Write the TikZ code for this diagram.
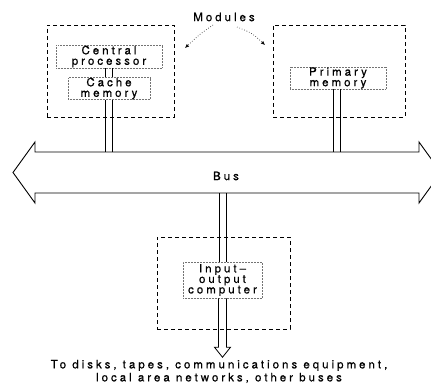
\documentclass[tikz,border=0pt]{standalone}
\usepackage{fontspec}
\setmainfont{TeX Gyre Heros}[LetterSpace=26, FakeBold=0.6]
\usetikzlibrary{arrows.meta}
\begin{document}
\begin{tikzpicture}[x=1pt,y=-1pt,
  font=\fontsize{11.5}{10.5}\selectfont,
  module/.style={draw, line width=0.9pt, dash pattern=on 4pt off 3pt},
  unit/.style={draw=black!55, line width=0.5pt, densely dotted, inner sep=0pt, align=center},
  rail/.style={draw, line width=0.8pt},
  pointer/.style={draw, line width=0.6pt, dotted, -{Latex[length=4pt,width=3.5pt]}}]
\clip (0,0) rectangle (431,385);
\useasboundingbox (0,0) rectangle (431,385);
% outer module boxes
\node[module, minimum width=127pt, minimum height=92pt] (m1) at (110.5,71) {};
\node[module, minimum width=132pt, minimum height=92pt] (m2) at (339,71) {};
\node[module, minimum width=133pt, minimum height=92pt] (m3) at (223.5,283) {};
% inner units
\node[unit, minimum width=106pt, minimum height=23pt] (cpu) at (109,56.5) {Central\\processor};
\node[unit, minimum width=82pt, minimum height=21pt] (cache) at (109,88.5) {Cache\\memory};
\node[unit, minimum width=96pt, minimum height=22pt] (pm) at (338,78) {Primary\\memory};
\node[unit, minimum width=79pt, minimum height=36pt] (io) at (222.5,280) {Input–\\output\\computer};
% bus
\coordinate (bustop) at (0,152);
\coordinate (busbot) at (0,193);
\draw[line width=0.9pt, fill=white] (13,172.5) -- (35,142) -- (35,152) -- (419,152) -- (419,142) -- (441,172.5)
  -- (419,203) -- (419,193) -- (35,193) -- (35,203) -- cycle;
\node (bus) at (226,176) {Bus};
% links (pairs of parallel lines)
\coordinate (pmlink) at (336.5,89);
\foreach \s in {-3.6,3.6} {
  \draw[rail] ([xshift=\s pt]cpu.south) -- ([xshift=\s pt]cache.north);
  \draw[rail] ([xshift=\s pt]cache.south) -- ([xshift=\s pt]cache.south |- bustop);
  \draw[rail] ([xshift=\s pt]pmlink) -- ([xshift=\s pt]pmlink |- bustop);
  \draw[rail] ([xshift=\s pt]io.north |- busbot) -- ([xshift=\s pt]io.north);
}
% output arrow
\coordinate (ioout) at (io.south);
\draw[line width=0.8pt] ([xshift=-4pt]ioout) -- ++(0,49) -- ++(-4,0) -- ++(8,10) -- ++(8,-10) -- ++(-4,0) -- ([xshift=4pt]ioout);
% labels
\node (mods) at (224,17) {Modules};
\draw[pointer] (213,25) .. controls (200,34) .. (185,48);
\draw[pointer] (237,27) .. controls (252,33) .. (265,45);
\node[align=center, font=\fontsize{11.5}{13}\selectfont] (dest) at (219,371.5) {To disks, tapes, communications equipment,\\local area networks, other buses};
\end{tikzpicture}
\end{document}
